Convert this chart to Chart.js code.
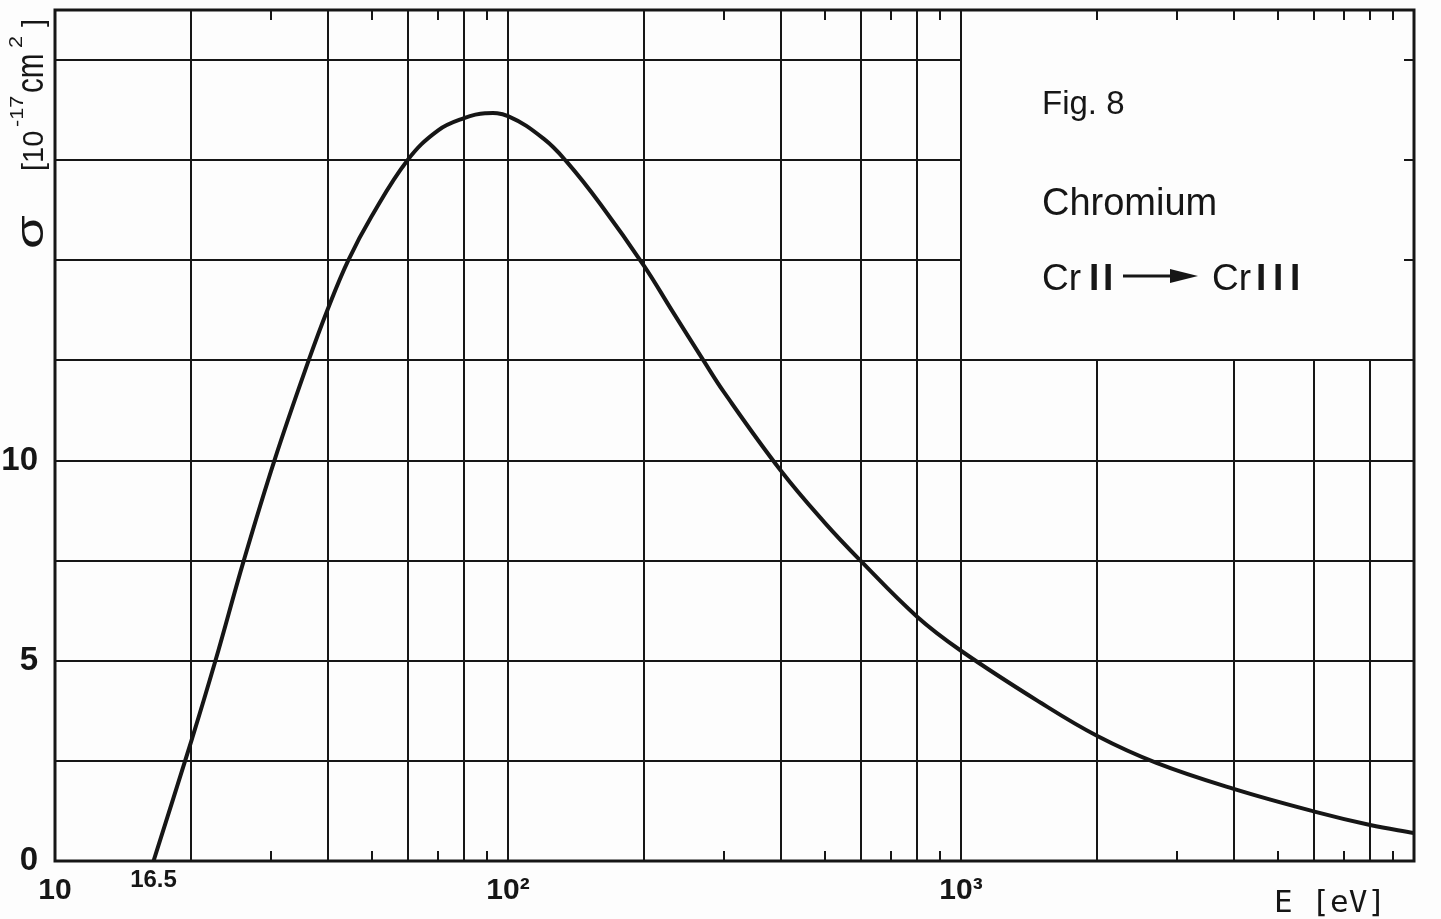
<!DOCTYPE html>
<html>
<head>
<meta charset="utf-8">
<title>Fig. 8 Chromium</title>
<script src="https://cdn.jsdelivr.net/npm/chart.js@4.4.0/dist/chart.umd.min.js"></script>
<style>
  html, body { margin: 0; padding: 0; background: #fdfdfd; }
  #wrap { width: 1441px; height: 919px; position: relative; }
</style>
</head>
<body>
<div id="wrap"><canvas id="crossSection"></canvas></div>
<script>
// Cr II -> Cr III ionization cross section
const energy = [16.5, 20, 22.6, 26.1, 30.5, 36.3, 40, 44.4, 50, 60, 70, 80, 89, 100, 120, 135, 160, 200, 230, 270, 300, 400, 500, 600, 800, 1000, 1500, 2000, 2700, 4000, 6000, 8000, 10000];
const sigma = [0, 3.0, 5.0, 7.5, 10.0, 12.5, 13.78, 15.0, 16.1, 17.5, 18.24, 18.55, 18.67, 18.6, 18.03, 17.45, 16.4, 14.85, 13.75, 12.5, 11.7, 9.75, 8.45, 7.5, 6.1, 5.25, 3.95, 3.12, 2.45, 1.8, 1.24, 0.9, 0.7];

// axis labels and grid of the graph paper
const xTickLabels = [10, 16.5, 100, 1000];
const yTickLabels = [0, 5, 10];
const xGridLines = [20, 40, 60, 80, 100, 200, 400, 600, 800, 1000, 2000, 4000, 6000, 8000];
const xMinorTicks = [30, 50, 70, 90, 300, 500, 700, 900, 3000, 5000, 7000, 9000];
const yGridLines = [2.5, 5, 7.5, 10, 12.5, 15, 17.5, 20];
const boxCorner = [1000, 12.5]; // legend panel: no grid right of 1000 eV and above 12.5

const ink = '#161616';
const SANS = '"Liberation Sans", Arial, sans-serif';

function tickLabel(v) {
  if (v === 100) return '10\u00B2';
  if (v === 1000) return '10\u00B3';
  return String(v);
}

// rotated text (reads bottom to top); each piece sits at its own offset from the start
function drawRotatedRun(ctx, x, y, pieces) {
  ctx.save();
  ctx.translate(x, y);
  ctx.rotate(-Math.PI / 2);
  ctx.textBaseline = 'alphabetic';
  ctx.textAlign = 'left';
  pieces.forEach(p => {
    ctx.save();
    ctx.translate(p.at, -(p.rise || 0));
    ctx.scale(p.sx || 1, 1);
    ctx.font = p.font;
    ctx.fillText(p.text, 0, 0);
    ctx.restore();
  });
  ctx.restore();
}

const paperGrid = {
  id: 'paperGrid',
  beforeDatasetsDraw(chart) {
    const { ctx, chartArea: a, scales: { x, y } } = chart;
    const boxX = x.getPixelForValue(boxCorner[0]);
    const boxY = y.getPixelForValue(boxCorner[1]);
    ctx.save();
    ctx.strokeStyle = ink;
    ctx.lineWidth = 2;
    ctx.beginPath();
    xGridLines.forEach(v => {
      const px = Math.round(x.getPixelForValue(v));
      const top = v > boxCorner[0] ? boxY : a.top;
      ctx.moveTo(px, top);
      ctx.lineTo(px, a.bottom);
    });
    yGridLines.forEach(v => {
      const py = Math.round(y.getPixelForValue(v));
      const right = v > boxCorner[1] ? boxX : a.right;
      ctx.moveTo(a.left, py);
      ctx.lineTo(right, py);
    });
    ctx.stroke();

    // short tick marks along the frame
    const len = 10;
    ctx.beginPath();
    xMinorTicks.forEach(v => {
      const px = Math.round(x.getPixelForValue(v));
      ctx.moveTo(px, a.bottom); ctx.lineTo(px, a.bottom - len);
    });
    xMinorTicks.concat(xGridLines.filter(v => v > boxCorner[0])).forEach(v => {
      const px = Math.round(x.getPixelForValue(v));
      ctx.moveTo(px, a.top); ctx.lineTo(px, a.top + len);
    });
    yGridLines.filter(v => v > boxCorner[1]).forEach(v => {
      const py = Math.round(y.getPixelForValue(v));
      ctx.moveTo(a.right, py); ctx.lineTo(a.right - len, py);
    });
    ctx.stroke();

    ctx.lineWidth = 3;
    ctx.strokeRect(a.left, a.top, a.right - a.left, a.bottom - a.top);
    ctx.restore();
  },
  afterDraw(chart) {
    const { ctx } = chart;
    ctx.save();
    ctx.fillStyle = ink;
    ctx.textBaseline = 'alphabetic';
    ctx.textAlign = 'left';

    // legend panel
    ctx.font = '33px ' + SANS;
    ctx.fillText('Fig. 8', 1042, 114);
    ctx.font = '38px ' + SANS;
    ctx.fillText('Chromium', 1042, 215);

    ctx.font = '37px ' + SANS;
    ctx.fillText('Cr', 1042, 290);
    ctx.fillText('Cr', 1212, 290);
    ctx.font = 'bold 37px ' + SANS;
    [1089, 1103].forEach(px => ctx.fillText('I', px, 290));
    [1256, 1273, 1290].forEach(px => ctx.fillText('I', px, 290));

    // arrow
    ctx.strokeStyle = ink;
    ctx.lineWidth = 3;
    ctx.beginPath();
    ctx.moveTo(1123, 276);
    ctx.lineTo(1176, 276);
    ctx.stroke();
    ctx.beginPath();
    ctx.moveTo(1170, 269);
    ctx.lineTo(1198, 276);
    ctx.lineTo(1170, 283);
    ctx.closePath();
    ctx.fill();

    // x axis title
    ctx.font = '31px "DejaVu Sans Mono", monospace';
    ctx.fillText('E [eV]', 1274, 912);

    // y axis title
    drawRotatedRun(ctx, 43, 249, [
      { text: '\u03C3', font: '39px ' + SANS, at: 0, sx: 1.4 },
      { text: '[10', font: '29px ' + SANS, at: 78 },
      { text: '-17', font: '18px ' + SANS, rise: 20, at: 122, sx: 1.2 },
      { text: 'cm', font: '38px ' + SANS, at: 156, sx: 0.78 },
      { text: '2', font: '18px ' + SANS, rise: 21, at: 201, sx: 1.2 },
      { text: ']', font: '29px ' + SANS, at: 222 }
    ]);
    ctx.restore();
  }
};

function renderChart() {
  const el = document.getElementById('crossSection');
  const points = energy.map((e, i) => ({ x: e, y: sigma[i] }));

  new Chart(el.getContext('2d'), {
    type: 'scatter',
    data: {
      datasets: [{
        data: points,
        showLine: true,
        borderColor: ink,
        borderWidth: 4,
        pointRadius: 0,
        tension: 0.4,
        fill: false
      }]
    },
    options: {
      responsive: true,
      maintainAspectRatio: false,
      animation: false,
      layout: { padding: { top: 10, right: 27, left: 0, bottom: 0 } },
      plugins: { legend: { display: false }, tooltip: { enabled: false } },
      scales: {
        x: {
          type: 'logarithmic',
          min: 10,
          max: 10000,
          grid: { display: false, drawTicks: false },
          border: { display: false },
          afterBuildTicks: axis => { axis.ticks = xTickLabels.map(v => ({ value: v })); },
          afterFit: axis => { axis.height = 58; axis.paddingLeft = 0; axis.paddingRight = 0; },
          ticks: {
            autoSkip: false,
            maxRotation: 0,
            minRotation: 0,
            padding: 12,
            color: ink,
            font: c => (c.tick && c.tick.value === 16.5)
              ? { family: SANS, size: 24, weight: 'bold', lineHeight: 0.6 }
              : { family: SANS, size: 30, weight: 'bold' },
            callback: v => tickLabel(v)
          }
        },
        y: {
          min: 0,
          max: 21.25,
          grid: { display: false, drawTicks: false },
          border: { display: false },
          afterBuildTicks: axis => { axis.ticks = yTickLabels.map(v => ({ value: v })); },
          afterFit: axis => { axis.width = 55; axis.paddingTop = 0; axis.paddingBottom = 0; },
          ticks: {
            padding: 17,
            color: ink,
            font: { family: SANS, size: 33, weight: 'bold' },
            callback: v => String(v)
          }
        }
      }
    },
    plugins: [paperGrid]
  });
}

document.addEventListener('DOMContentLoaded', renderChart);
</script>
</body>
</html>
